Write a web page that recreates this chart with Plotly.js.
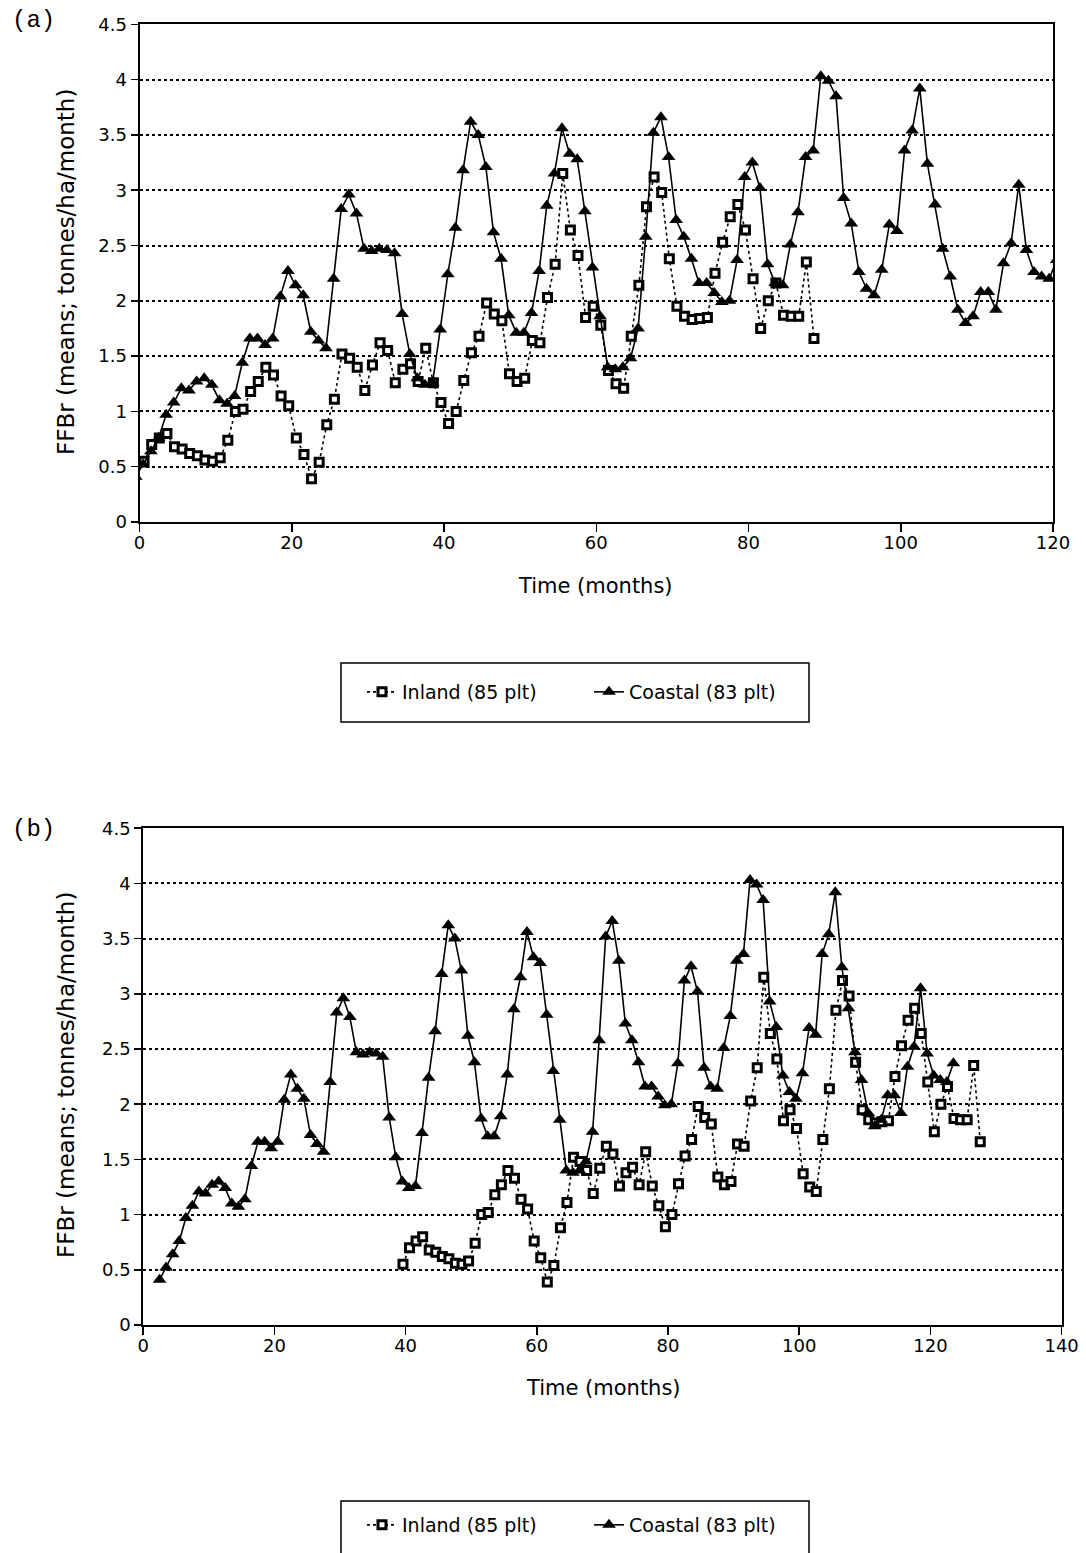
<!DOCTYPE html>
<html><head><meta charset="utf-8">
<script src="https://cdn.plot.ly/plotly-3.0.1.min.js"></script>
<style>html,body{margin:0;padding:0;background:#fff}#chart{width:1086px;height:1553px}</style>
</head><body><div id="chart"></div>
<script>
// Coastal (83 plt) monthly means
const coastalValues = [
  0.41, 0.52, 0.64, 0.76, 0.97, 1.08, 1.21, 1.19, 1.27, 1.30,
  1.24, 1.10, 1.07, 1.14, 1.44, 1.66, 1.66, 1.60, 1.66, 2.04,
  2.27, 2.14, 2.05, 1.72, 1.64, 1.57, 2.20, 2.83, 2.96, 2.79,
  2.47, 2.45, 2.47, 2.46, 2.43, 1.88, 1.52, 1.30, 1.24, 1.26,
  1.74, 2.24, 2.66, 3.18, 3.62, 3.50, 3.21, 2.62, 2.38, 1.87,
  1.71, 1.71, 1.89, 2.27, 2.86, 3.15, 3.56, 3.33, 3.28, 2.81,
  2.30, 1.86, 1.40, 1.38, 1.40, 1.48, 1.75, 2.58, 3.52, 3.66,
  3.30, 2.73, 2.58, 2.38, 2.16, 2.16, 2.07, 1.99, 2.00, 2.37,
  3.12, 3.25, 3.02, 2.33, 2.16, 2.14, 2.51, 2.80, 3.30, 3.36,
  4.03, 3.99, 3.85, 2.93, 2.70, 2.26, 2.11, 2.05, 2.28, 2.69,
  2.63, 3.36, 3.54, 3.92, 3.24, 2.87, 2.47, 2.22, 1.92, 1.80,
  1.86, 2.08, 2.08, 1.92, 2.34, 2.52, 3.05, 2.46, 2.26, 2.22,
  2.20, 2.37
];
// Inland (85 plt) monthly means
const inlandValues = [
  0.55, 0.70, 0.76, 0.80, 0.68, 0.66, 0.62, 0.60, 0.56, 0.55,
  0.58, 0.74, 1.00, 1.02, 1.18, 1.27, 1.40, 1.33, 1.14, 1.05,
  0.76, 0.61, 0.39, 0.54, 0.88, 1.11, 1.52, 1.48, 1.40, 1.19,
  1.42, 1.62, 1.55, 1.26, 1.38, 1.43, 1.27, 1.57, 1.26, 1.08,
  0.89, 1.00, 1.28, 1.53, 1.68, 1.98, 1.88, 1.82, 1.34, 1.27,
  1.30, 1.64, 1.62, 2.03, 2.33, 3.15, 2.64, 2.41, 1.85, 1.95,
  1.78, 1.37, 1.25, 1.21, 1.68, 2.14, 2.85, 3.12, 2.98, 2.38,
  1.95, 1.86, 1.83, 1.84, 1.85, 2.25, 2.53, 2.76, 2.87, 2.64,
  2.20, 1.75, 2.00, 2.16, 1.87, 1.86, 1.86, 2.35, 1.66
];
// time (months) of the first value of each series in each panel (points sit mid-month)
const coastalStartA = -0.5, coastalStartB = 2.5;
const inlandStartA = 0.6, inlandStartB = 39.6;

const seriesNames = ['Inland (85 plt)', 'Coastal (83 plt)'];
const yTicks = [0, 0.5, 1, 1.5, 2, 2.5, 3, 3.5, 4, 4.5];
const xTicksA = [0, 20, 40, 60, 80, 100, 120];
const xTicksB = [0, 20, 40, 60, 80, 100, 120, 140];
const yTitle = 'FFBr (means; tonnes/ha/month)';
const xTitle = 'Time (months)';
const panelLabels = ['(a)', '(b)'];

function monthsFrom(start, n) { const m = []; for (let k = 0; k < n; k++) m.push(start + k); return m; }

const W = 1086, H = 1553;
const FONT = 'DejaVu Sans, Liberation Sans, Arial, sans-serif';

const inlandStyle = {
  mode: 'lines+markers',
  line: {color: '#000', width: 1.6, dash: 'dot'},
  marker: {symbol: 'square', size: 8, color: '#fff', line: {color: '#000', width: 3}}
};
const coastalStyle = {
  mode: 'lines+markers',
  line: {color: '#000', width: 1.6},
  marker: {symbol: 'triangle-up', size: 12, color: '#000'}
};

const traces = [
  Object.assign({name: seriesNames[0], x: monthsFrom(inlandStartA, inlandValues.length), y: inlandValues,
    xaxis: 'x', yaxis: 'y', legend: 'legend'}, inlandStyle),
  Object.assign({name: seriesNames[1], x: monthsFrom(coastalStartA, coastalValues.length), y: coastalValues,
    xaxis: 'x', yaxis: 'y', legend: 'legend'}, coastalStyle),
  Object.assign({name: seriesNames[0], x: monthsFrom(inlandStartB, inlandValues.length), y: inlandValues,
    xaxis: 'x2', yaxis: 'y2', legend: 'legend2'}, inlandStyle),
  Object.assign({name: seriesNames[1], x: monthsFrom(coastalStartB, coastalValues.length), y: coastalValues,
    xaxis: 'x2', yaxis: 'y2', legend: 'legend2'}, coastalStyle)
];

const tickFont = {family: FONT, size: 18, color: '#000'};
function xAxis(domainPx, range, ticks, anchor) {
  return {domain: [domainPx[0] / W, domainPx[1] / W], range: range, tickvals: ticks, anchor: anchor,
    showline: true, linecolor: '#000', linewidth: 2, mirror: true,
    ticks: 'outside', ticklen: 8, tickwidth: 1.5, tickcolor: '#000', ticklabelstandoff: -5,
    tickfont: tickFont, showgrid: false, zeroline: false, automargin: false, fixedrange: true};
}
function yAxis(domainPx, anchor) {
  return {domain: [(H - domainPx[1]) / H, (H - domainPx[0]) / H], range: [0, 4.5], tickvals: yTicks, anchor: anchor,
    showline: true, linecolor: '#000', linewidth: 2, mirror: true,
    ticks: 'outside', ticklen: 7, tickwidth: 1.5, tickcolor: '#000',
    tickfont: tickFont, showgrid: true, gridcolor: '#000', gridwidth: 2, griddash: 'dot',
    zeroline: false, automargin: false, fixedrange: true};
}

const legendCommon = {orientation: 'h', xanchor: 'left', yanchor: 'middle', bgcolor: 'rgba(0,0,0,0)',
  borderwidth: 0, font: {family: FONT, size: 19, color: '#000'},
  entrywidth: 182, entrywidthmode: 'pixels', itemclick: false, itemdoubleclick: false};

const annFont = {family: FONT, size: 21, color: '#000'};
const yTitleFont = {family: FONT, size: 23, color: '#000'};
const labelFont = {family: 'Liberation Mono, DejaVu Sans Mono, monospace', size: 24, color: '#000'};
function paperText(text, xPx, yPx, font, angle) {
  return {text: text, x: xPx / W, y: (H - yPx) / H, xref: 'paper', yref: 'paper', showarrow: false,
    xanchor: 'center', yanchor: 'middle', textangle: angle || 0, font: font};
}
function boxShape(x0, y0, x1, y1) {
  return {type: 'rect', xref: 'paper', yref: 'paper', x0: x0 / W, x1: x1 / W, y0: (H - y1) / H, y1: (H - y0) / H,
    line: {color: '#000', width: 1.5}, fillcolor: 'rgba(0,0,0,0)'};
}

const layout = {
  width: W, height: H, margin: {l: 0, r: 0, t: 0, b: 0},
  paper_bgcolor: '#fff', plot_bgcolor: '#fff', showlegend: true,
  xaxis: xAxis([139.5, 1053], [0, 120], xTicksA, 'y'),
  yaxis: yAxis([24.3, 522], 'x'),
  xaxis2: xAxis([143.2, 1061.6], [0, 140], xTicksB, 'y2'),
  yaxis2: yAxis([828.2, 1325], 'x2'),
  legend: Object.assign({x: 362 / W, y: (H - 692) / H}, legendCommon),
  legend2: Object.assign({x: 362 / W, y: (H - 1525) / H}, legendCommon),
  shapes: [boxShape(341, 663, 809, 722), boxShape(341, 1501, 809, 1560)],
  annotations: [
    paperText(panelLabels[0], 33, 20, labelFont),
    paperText(panelLabels[1], 33, 830, labelFont),
    paperText(yTitle, 66, 272, yTitleFont, -90),
    paperText(yTitle, 66, 1075, yTitleFont, -90),
    paperText(xTitle, 595, 586, annFont),
    paperText(xTitle, 603, 1388, annFont)
  ]
};

Plotly.newPlot('chart', traces, layout, {staticPlot: true, displayModeBar: false});
</script>
</body></html>
